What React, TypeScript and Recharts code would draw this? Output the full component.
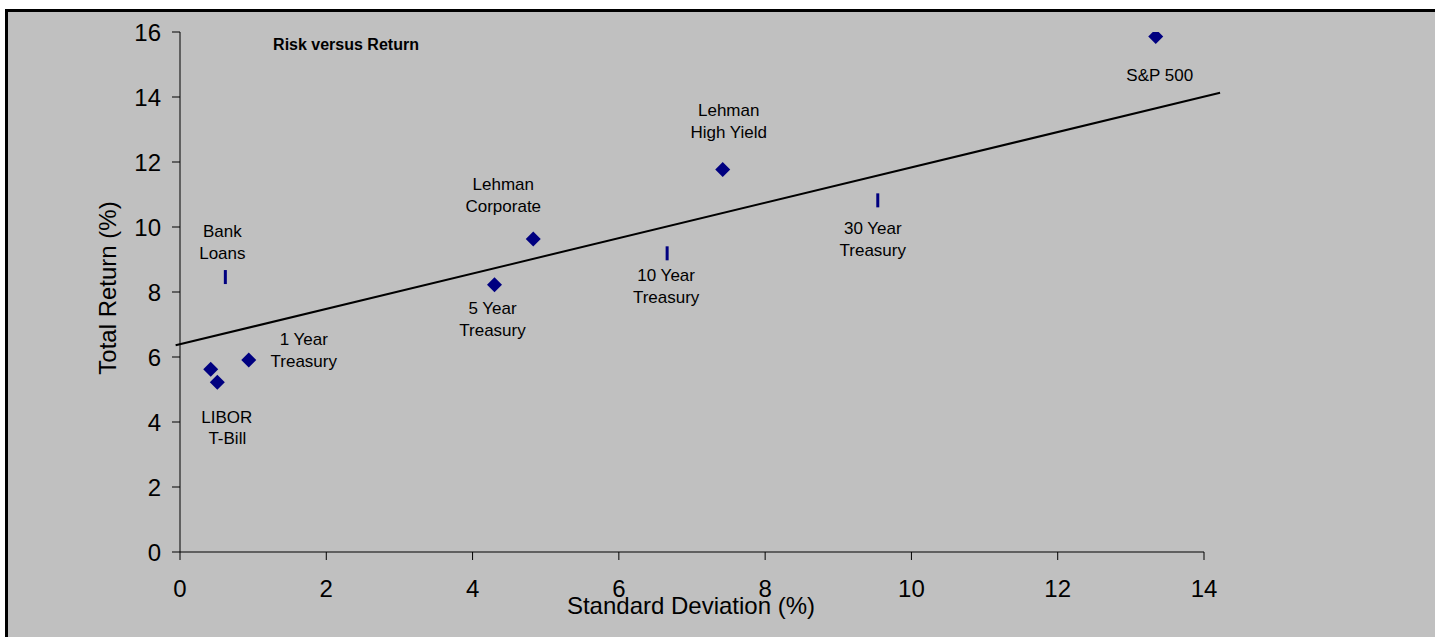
import React from 'react';
import { ScatterChart, Scatter, XAxis, YAxis, ReferenceLine } from 'recharts';

// Assets plotted with a diamond marker
const DIAMOND_NAMES = ['LIBOR', 'T-Bill', '1 Year Treasury', '5 Year Treasury', 'Lehman Corporate', 'Lehman High Yield', 'S&P 500'];
const DIAMOND_STDEV = [0.42, 0.51, 0.94, 4.3, 4.83, 7.42, 13.34];
const DIAMOND_RETURN = [5.62, 5.22, 5.91, 8.22, 9.63, 11.77, 15.86];

// Assets plotted with a dash marker
const DASH_NAMES = ['Bank Loans', '10 Year Treasury', '30 Year Treasury'];
const DASH_STDEV = [0.62, 6.66, 9.54];
const DASH_RETURN = [8.46, 9.19, 10.82];

// Linear trend line end points
const TREND_STDEV = [-0.06, 14.22];
const TREND_RETURN = [6.36, 14.13];

const X_TICKS = [0, 2, 4, 6, 8, 10, 12, 14];
const Y_TICKS = [0, 2, 4, 6, 8, 10, 12, 14, 16];

// label placement relative to the marker (first line centre), px
const LABEL_LAYOUT: Record<string, { lines: string[]; dx: number; dy: number }> = {
  'LIBOR': { lines: ['LIBOR'], dx: 16, dy: 48 },
  'T-Bill': { lines: ['T-Bill'], dx: 10, dy: 56 },
  '1 Year Treasury': { lines: ['1 Year', 'Treasury'], dx: 55, dy: -21 },
  '5 Year Treasury': { lines: ['5 Year', 'Treasury'], dx: -2, dy: 23 },
  'Lehman Corporate': { lines: ['Lehman', 'Corporate'], dx: -30, dy: -55 },
  'Lehman High Yield': { lines: ['Lehman', 'High Yield'], dx: 6, dy: -60 },
  'S&P 500': { lines: ['S&P 500'], dx: 4, dy: 38 },
  'Bank Loans': { lines: ['Bank', 'Loans'], dx: -3, dy: -46 },
  '10 Year Treasury': { lines: ['10 Year', 'Treasury'], dx: -1, dy: 22 },
  '30 Year Treasury': { lines: ['30 Year', 'Treasury'], dx: -5, dy: 28 },
};

const FONT = '"Liberation Sans", Arial, sans-serif';
const NAVY = '#000080';
const LABEL_SIZE = 17;

const diamondData = DIAMOND_NAMES.map((name, i) => ({ name, x: DIAMOND_STDEV[i], y: DIAMOND_RETURN[i] }));
const dashData = DASH_NAMES.map((name, i) => ({ name, x: DASH_STDEV[i], y: DASH_RETURN[i] }));

function PointLabel({ cx, cy, name }: { cx: number; cy: number; name: string }) {
  const layout = LABEL_LAYOUT[name];
  if (!layout) return null;
  return (
    <>
      {layout.lines.map((line, i) => (
        <text
          key={i}
          x={cx + layout.dx}
          y={cy + layout.dy + i * 22 + LABEL_SIZE * 0.36}
          textAnchor="middle"
          fontSize={LABEL_SIZE}
          fontFamily={FONT}
          fill="#000"
        >
          {line}
        </text>
      ))}
    </>
  );
}

function DiamondMark(props: any) {
  const { cx, cy, payload } = props;
  const r = 7.5;
  return (
    <g>
      <polygon points={`${cx},${cy - r} ${cx + r},${cy} ${cx},${cy + r} ${cx - r},${cy}`} fill={NAVY} />
      <PointLabel cx={cx} cy={cy} name={payload.name} />
    </g>
  );
}

function DashMark(props: any) {
  const { cx, cy, payload } = props;
  return (
    <g>
      <rect x={cx - 1.5} y={cy - 7} width={3} height={14} fill={NAVY} />
      <PointLabel cx={cx} cy={cy} name={payload.name} />
    </g>
  );
}

const tickStyle = { fontSize: 24, fill: '#000', fontFamily: FONT };

export default function App() {
  return (
    <div style={{ position: 'absolute', left: 0, top: 0, width: 1435, height: 637, overflow: 'hidden', fontFamily: FONT }}>
      <div
        style={{
          position: 'absolute',
          left: 5,
          top: 9,
          right: 0,
          bottom: 0,
          background: '#C0C0C0',
          borderTop: '3px solid #000',
          borderLeft: '3px solid #000',
        }}
      />
      <div style={{ position: 'absolute', left: 0, top: 0 }}>
        <ScatterChart width={1435} height={637} margin={{ top: 32, right: 231, bottom: 45, left: 100 }}>
          <XAxis
            type="number"
            dataKey="x"
            domain={[0, 14]}
            ticks={X_TICKS}
            interval={0}
            height={40}
            stroke="#000"
            tickSize={8}
            tickMargin={20}
            tick={tickStyle}
            allowDataOverflow
          />
          <YAxis
            type="number"
            dataKey="y"
            domain={[0, 16]}
            ticks={Y_TICKS}
            interval={0}
            width={80}
            stroke="#000"
            tickSize={8}
            tickMargin={11}
            tick={tickStyle}
            allowDataOverflow
          />
          <ReferenceLine
            segment={[
              { x: TREND_STDEV[0], y: TREND_RETURN[0] },
              { x: TREND_STDEV[1], y: TREND_RETURN[1] },
            ]}
            stroke="#000"
            strokeWidth={2}
            ifOverflow="visible"
          />
          <Scatter data={diamondData} shape={DiamondMark} isAnimationActive={false} />
          <Scatter data={dashData} shape={DashMark} isAnimationActive={false} />
        </ScatterChart>
      </div>
      <div
        style={{
          position: 'absolute',
          left: 346,
          top: 37,
          transform: 'translateX(-50%)',
          fontSize: 16,
          lineHeight: '16px',
          fontWeight: 'bold',
          whiteSpace: 'nowrap',
        }}
      >
        Risk versus Return
      </div>
      <div
        style={{
          position: 'absolute',
          left: 691,
          top: 594,
          transform: 'translateX(-50%)',
          fontSize: 24,
          lineHeight: '24px',
          whiteSpace: 'nowrap',
        }}
      >
        Standard Deviation (%)
      </div>
      <div
        style={{
          position: 'absolute',
          left: 108,
          top: 288,
          transform: 'translate(-50%, -50%) rotate(-90deg)',
          fontSize: 24,
          lineHeight: '24px',
          whiteSpace: 'nowrap',
        }}
      >
        Total Return (%)
      </div>
    </div>
  );
}
